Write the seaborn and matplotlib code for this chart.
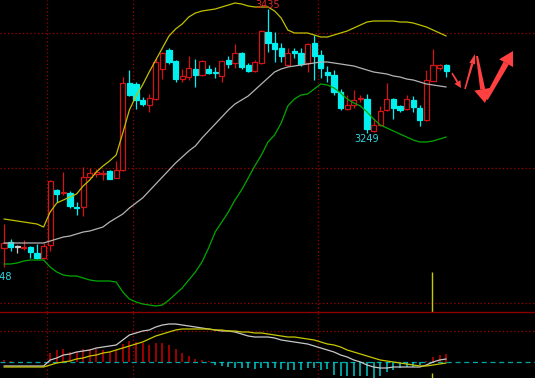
import matplotlib
matplotlib.use("Agg")
import matplotlib.pyplot as plt
import numpy as np
import pandas as pd
import seaborn as sns
from matplotlib.patches import Polygon
from matplotlib.lines import Line2D

# ---------------- data ----------------
opens = [3076.5, 3085.5, 3078, 3076.5, 3078, 3069, 3061.5, 3081, 3163.5, 3159,
         3159, 3138, 3138, 3183, 3187.5, 3188, 3192, 3181.5, 3193.5, 3324,
         3322.5, 3298.5, 3291, 3300, 3345, 3373.5, 3357, 3330, 3333, 3345,
         3336, 3345, 3340.5, 3334.5, 3358.5, 3354, 3369, 3351, 3342, 3354,
         3400.5, 3384, 3376.5, 3351, 3372, 3369, 3354, 3384, 3366, 3340.5,
         3336, 3310.5, 3285, 3291, 3300, 3300, 3252, 3261, 3283.5, 3300,
         3289.5, 3285, 3298.5, 3286.5, 3268.5, 3327, 3346.5, 3351]
highs = [3112.5, 3090, 3081, 3088.5, 3079.5, 3082.5, 3084, 3178.5, 3165, 3190.5,
         3162, 3145.5, 3198, 3196.5, 3195, 3193.5, 3193.5, 3207, 3333, 3343.5,
         3325.5, 3303, 3307.5, 3361.5, 3370.5, 3376.5, 3358.5, 3345, 3364.5, 3360,
         3358.5, 3351, 3348, 3358.5, 3364.5, 3382.5, 3370.5, 3354, 3358.5, 3403.5,
         3435, 3400.5, 3384, 3376.5, 3376.5, 3376.5, 3384, 3396, 3373.5, 3349.5,
         3343.5, 3315, 3306, 3313.5, 3306, 3307.5, 3271.5, 3289.5, 3324, 3301.5,
         3291, 3306, 3304.5, 3291, 3343.5, 3375, 3352.5, 3352.5]
lows = [3048, 3072, 3069, 3073.5, 3061.5, 3060, 3060, 3072, 3145.5, 3156,
        3136.5, 3126, 3124.5, 3181.5, 3183, 3178.5, 3180, 3181.5, 3192, 3304.5,
        3285, 3289.5, 3280.5, 3298.5, 3330, 3352.5, 3325.5, 3325.5, 3328.5, 3318,
        3334.5, 3337.5, 3331.5, 3325.5, 3346.5, 3346.5, 3345, 3340.5, 3340.5, 3352.5,
        3370.5, 3355.5, 3355.5, 3349.5, 3361.5, 3349.5, 3340.5, 3328.5, 3331.5, 3325.5,
        3306, 3283.5, 3283.5, 3286.5, 3295.5, 3249, 3250.5, 3259.5, 3282, 3270,
        3280.5, 3283.5, 3280.5, 3259.5, 3267, 3327, 3343.5, 3333]
closes = [3084, 3078, 3078, 3078, 3070.5, 3061.5, 3079.5, 3177, 3157.5, 3160.5,
          3139.5, 3136.5, 3183, 3189, 3190.5, 3189.5, 3180, 3193.5, 3324, 3306,
          3298.5, 3292.5, 3301.5, 3355.5, 3369, 3355.5, 3330, 3334.5, 3346.5, 3336,
          3357, 3339, 3339, 3357, 3352.5, 3369, 3348, 3342, 3355.5, 3402,
          3384, 3375, 3364.5, 3369, 3369, 3352.5, 3382.5, 3364.5, 3346.5, 3336,
          3310.5, 3286.5, 3291, 3298.5, 3301.5, 3255, 3261, 3282, 3300, 3286.5,
          3283.5, 3300, 3288, 3268.5, 3328.5, 3351, 3351, 3342]

boll_upper = [3120, 3118.5, 3117, 3115.5, 3114, 3112.5, 3108, 3130.5, 3144, 3148.5,
              3153, 3157.5, 3169.5, 3178.5, 3190.5, 3199.5, 3207, 3216, 3249, 3283.5,
              3304.5, 3321, 3340.5, 3358.5, 3376.5, 3394.5, 3405, 3412.5, 3423, 3429,
              3432, 3433.5, 3435, 3438, 3441, 3444, 3442.5, 3439.5, 3438, 3438,
              3438, 3432, 3421.5, 3403.5, 3399, 3399, 3399, 3396, 3393, 3393,
              3396, 3399, 3402, 3406.5, 3411, 3415.5, 3417, 3417, 3417, 3417,
              3415.5, 3415.5, 3414, 3411, 3408, 3403.5, 3399, 3394.5]
boll_mid = [3084, 3084, 3084, 3084, 3084, 3084, 3084, 3087, 3090, 3093,
            3094.5, 3097.5, 3100.5, 3102, 3105, 3108, 3115.5, 3121.5, 3127.5, 3136.5,
            3144, 3151.5, 3162, 3172.5, 3183, 3193.5, 3204, 3213, 3222, 3229.5,
            3241.5, 3252, 3262.5, 3273, 3283.5, 3292.5, 3298.5, 3304.5, 3313.5, 3322.5,
            3331.5, 3340.5, 3345, 3348, 3349.5, 3351, 3352.5, 3354, 3355.5, 3355.5,
            3354, 3352.5, 3351, 3349.5, 3346.5, 3343.5, 3340.5, 3339, 3337.5, 3334.5,
            3333, 3330, 3328.5, 3325.5, 3322.5, 3321, 3319.5, 3318]
boll_lower = [3052.5, 3052.5, 3054, 3057, 3058.5, 3058.5, 3058.5, 3048, 3040.5, 3036,
              3034.5, 3034.5, 3031.5, 3028.5, 3027, 3027, 3027, 3025.5, 3010.5, 3000,
              2995.5, 2992.5, 2991, 2989.5, 2991, 2998.5, 3007.5, 3016.5, 3028.5, 3040.5,
              3055.5, 3076.5, 3100.5, 3115.5, 3130.5, 3148.5, 3163.5, 3181.5, 3199.5, 3216,
              3235.5, 3246, 3264, 3289.5, 3300, 3306, 3307.5, 3315, 3322.5, 3321,
              3316.5, 3309, 3300, 3294, 3289.5, 3280.5, 3270, 3261, 3256.5, 3252,
              3247.5, 3243, 3238.5, 3235.5, 3235.5, 3237, 3240, 3243]

dif = [-4, -4, -4, -4, -4, -4, -4, 2, 4, 7,
       8, 10, 11, 12, 14, 15, 16, 17, 22, 27,
       29, 31, 32, 35, 37, 38, 38, 37, 36, 35,
       34, 33, 32, 31, 31, 30, 28, 26, 25, 25,
       25, 24, 22, 21, 20, 19, 18, 16, 14, 12,
       10, 7, 5, 2, 0, -3, -5, -6, -6, -5,
       -5, -5, -5, -5, -3, 0, 2, 3]
dea = [-5, -5, -5, -5, -5, -5, -5, -3, -1, 0,
       1, 3, 4, 6, 7, 9, 10, 12, 14, 16,
       18, 20, 23, 26, 28, 30, 32, 33, 33, 33,
       33, 33, 32, 32, 31, 31, 30, 30, 29, 29,
       28, 27, 26, 25, 25, 24, 23, 22, 20, 18,
       17, 15, 12, 10, 8, 6, 4, 2, 1, 0,
       -1, -2, -3, -4, -4, -3, -2, -1]
macd_hist = [2, 1, 0, 0, 0, 0, 0, 9, 12, 13,
             10, 10, 13, 13, 13, 12, 10, 12, 18, 21,
             20, 19, 17, 19, 19, 17, 13, 9, 6, 3,
             2, 1, -3, -4, -5, -6, -6, -6, -7, -6,
             -6, -6, -7, -8, -8, -8, -6, -6, -8, -7,
             -13, -14, -14, -14, -14, -14, -16, -14, -10, -8,
             -6, -5, -5, -3, 1, 5, 7, 8]

high_label = "3435"
low_label = "3249"
left_label = "3048"
grid_prices = [2994, 3196.5, 3399]
macd_grid = [31]
month_breaks = [6.5, 19.5, 47.5]
marker_bar = 64.85

# ---------------- style ----------------
sns.set_theme(style="dark", rc={"axes.facecolor": "black", "figure.facecolor": "black",
                                "axes.edgecolor": "black", "axes.grid": False})
plt.rcParams['font.family'] = ['DejaVu Sans']

UP = '#d21414'
DOWN = '#00f0f0'
FLAT = '#c8c8c8'
GRID = '#a00000'
DOT = (0, (1, 2))

n = len(opens)
idx = np.arange(n)
df = pd.DataFrame(dict(idx=idx, upper=boll_upper, mid=boll_mid, lower=boll_lower,
                       dif=dif, dea=dea, hist=macd_hist))

fig = plt.figure(figsize=(5.35, 3.78), dpi=100)
ax = fig.add_axes([0, 66 / 378, 1, 312 / 378])
axm = fig.add_axes([0, 0, 1, 66 / 378])

# grid
for yv in grid_prices:
    ax.axhline(yv, color=GRID, ls=DOT, lw=0.9, zorder=1)
for yv in macd_grid:
    axm.axhline(yv, color=GRID, ls=DOT, lw=0.9, zorder=1)
for xv in month_breaks:
    ax.axvline(xv, color=GRID, ls=DOT, lw=0.9, zorder=1)
    axm.axvline(xv, color=GRID, ls=DOT, lw=0.9, zorder=1)

# candles
colors = [UP if c > o else (DOWN if c < o else FLAT) for o, c in zip(opens, closes)]
faces = ['black' if c > o else (DOWN if c < o else FLAT) for o, c in zip(opens, closes)]
bottoms = np.minimum(opens, closes)
heights = np.maximum(np.abs(np.array(closes) - np.array(opens)), 0.8)
ax.vlines(idx, lows, highs, colors=colors, lw=0.9, zorder=3)
ax.bar(idx, heights, bottom=bottoms, width=0.8, color=faces, edgecolor=colors,
       linewidth=0.9, zorder=4)

# Bollinger bands
sns.lineplot(data=df, x='idx', y='upper', ax=ax, color='#c0c000', lw=0.9, zorder=5)
sns.lineplot(data=df, x='idx', y='mid', ax=ax, color='#b4b4b4', lw=0.9, zorder=5)
sns.lineplot(data=df, x='idx', y='lower', ax=ax, color='#00a800', lw=0.9, zorder=5)

# labels
ax.text(40, 3447.8, high_label, color='#e02828', fontsize=7, ha='center', va='top', zorder=6)
ax.text(55, 3247, low_label, color='#30d8e0', fontsize=7, ha='center', va='top', zorder=6)
ax.text(1.25, 3041, left_label, color='#30d8e0', fontsize=7, ha='right', va='top', zorder=6)

# marker bar
ax.vlines(marker_bar, 2980.5, 3040.5, color='#c8c800', lw=1.0, zorder=6)
axm.vlines(marker_bar, -16, -11, color='#c8c800', lw=1.0, zorder=6)

# MACD
hist_colors = ['#c80000' if h > 0 else '#00c8c8' for h in macd_hist]
axm.axhline(0, color='#00a8a8', ls=(0, (4, 3)), lw=0.9, zorder=2)
axm.vlines(idx, 0, macd_hist, colors=hist_colors, lw=1.1, zorder=3)
sns.lineplot(data=df, x='idx', y='dif', ax=axm, color='#c8c8c8', lw=0.9, zorder=4)
sns.lineplot(data=df, x='idx', y='dea', ax=axm, color='#c8c800', lw=0.9, zorder=4)

for a in (ax, axm):
    a.set_facecolor('black')
    for s in a.spines.values():
        s.set_visible(False)
    a.set_xticks([])
    a.set_yticks([])
    a.set_xlabel('')
    a.set_ylabel('')
    a.set_xlim(-0.6, 80.45)
ax.set_ylim(2980.5, 3448.5)
axm.set_ylim(-16, 50)

# separator between panels
fig.add_artist(Line2D([0, 1], [66 / 378, 66 / 378], transform=fig.transFigure,
                      color='#8c0000', lw=1.0))

# hand-drawn red arrows (pixel overlay)
ov = fig.add_axes([0, 0, 1, 1])
ov.set_xlim(0, 535)
ov.set_ylim(378, 0)
ov.axis('off')
ov.patch.set_alpha(0)
RED = '#ff4040'


def arrow(tail, tip, w0, w1, head_len, head_w):
    tail = np.array(tail, float)
    tip = np.array(tip, float)
    d = tip - tail
    d /= np.hypot(*d)
    p = np.array([-d[1], d[0]])
    base = tip - d * head_len
    shaft = [tail + p * w0 / 2, base + p * w1 / 2, base - p * w1 / 2, tail - p * w0 / 2]
    ov.add_patch(Polygon(shaft, closed=True, color=RED, lw=0))
    head = [tip, base + p * head_w / 2, base - p * head_w / 2]
    ov.add_patch(Polygon(head, closed=True, color=RED, lw=0))


arrow((452, 73), (461, 88), 1.5, 2, 7, 7)
arrow((465, 89), (475, 54), 1.5, 2.5, 10, 6)
arrow((477, 56), (485, 103), 2, 5, 14, 17)
arrow((486, 99), (513, 51), 4, 6, 14, 16)

fig.savefig('out.png', dpi=100, facecolor='black')
